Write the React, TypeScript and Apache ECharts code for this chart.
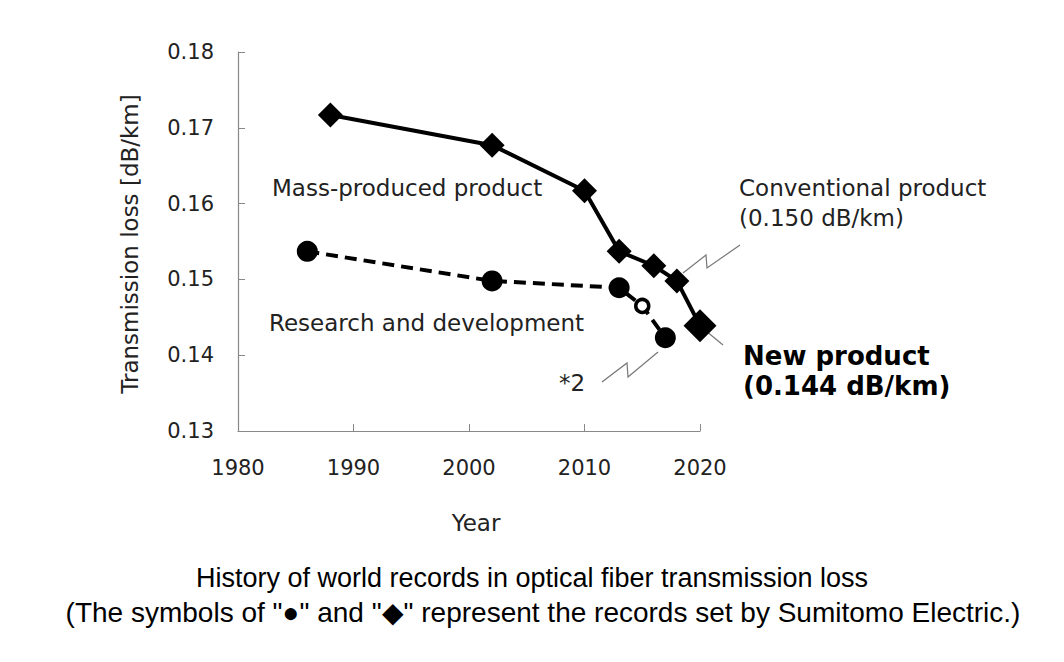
import React, { useEffect, useRef } from "react";
import * as echarts from "echarts";

const xTicks = [1980, 1990, 2000, 2010, 2020];
const massYears = [1988, 2002, 2010, 2013, 2016, 2018, 2020];
const massValues = [0.1717, 0.1677, 0.1617, 0.1537, 0.1518, 0.1498, 0.1439];
const rdYears = [1986, 2002, 2013, 2015, 2017];
const rdValues = [0.1537, 0.1498, 0.1489, 0.1465, 0.1423];
const rdOpen = [false, false, false, true, false];

const FONT = "DejaVu Sans";

export default function App() {
  const ref = useRef<HTMLDivElement>(null);
  useEffect(() => {
    document.body.style.margin = "0";
    const chart = echarts.init(ref.current!, null, { renderer: "svg" });
    const massData = massYears.map((y, i) => ({
      value: [y, massValues[i]],
      symbolSize: i === massYears.length - 1 ? 33 : 25,
    }));
    const rdData = rdYears.map((y, i) => ({
      value: [y, rdValues[i]],
      symbolSize: rdOpen[i] ? 13 : 21,
      itemStyle: rdOpen[i]
        ? { color: "#fff", borderColor: "#000", borderWidth: 3.5 }
        : { color: "#000" },
    }));
    const tb = { fontFamily: FONT, fontSize: 23, fill: "#222", verticalAlign: "middle" };
    const leader = { stroke: "#777", lineWidth: 1.2, fill: "none" };
    chart.setOption({
      animation: false,
      grid: { left: 238, top: 52, width: 462, height: 379 },
      xAxis: {
        type: "value",
        min: xTicks[0],
        max: xTicks[xTicks.length - 1],
        interval: 10,
        axisLine: { show: true, lineStyle: { color: "#888", width: 1.2 } },
        axisTick: { show: true, inside: true, length: 7, lineStyle: { color: "#888" } },
        splitLine: { show: false },
        axisLabel: { fontFamily: FONT, fontSize: 21, color: "#222", margin: 26, formatter: (v: number) => String(v) },
      },
      yAxis: {
        type: "value",
        min: 0.13,
        max: 0.18,
        interval: 0.01,
        axisLine: { show: true, lineStyle: { color: "#888", width: 1.2 } },
        axisTick: { show: true, inside: true, length: 7, lineStyle: { color: "#888" } },
        splitLine: { show: false },
        axisLabel: {
          fontFamily: FONT,
          fontSize: 21,
          color: "#222",
          margin: 24,
          formatter: (v: number) => v.toFixed(2),
        },
      },
      series: [
        {
          type: "line",
          data: massData,
          symbol: "diamond",
          lineStyle: { color: "#000", width: 4 },
          itemStyle: { color: "#000" },
          z: 3,
        },
        {
          type: "line",
          data: rdData,
          symbol: "circle",
          lineStyle: { color: "#000", width: 4, type: [12, 7] },
          itemStyle: { color: "#000" },
          z: 2,
        },
      ],
      graphic: [
        { type: "text", x: 272, y: 188, style: { ...tb, text: "Mass-produced product" } },
        { type: "text", x: 269, y: 323, style: { ...tb, text: "Research and development" } },
        { type: "text", x: 739, y: 203, style: { ...tb, text: "Conventional product\n(0.150 dB/km)", lineHeight: 30 } },
        {
          type: "text",
          x: 743,
          y: 371,
          style: { ...tb, fontSize: 26, fontWeight: "bold", fill: "#000", text: "New product\n(0.144 dB/km)", lineHeight: 30 },
        },
        { type: "text", x: 559, y: 383, style: { ...tb, text: "*2" } },
        { type: "text", x: 476, y: 523, style: { ...tb, text: "Year", align: "center" } },
        {
          type: "text",
          x: 130,
          y: 244,
          rotation: Math.PI / 2,
          style: { ...tb, text: "Transmission loss [dB/km]", align: "center" },
        },
        {
          type: "text",
          x: 532,
          y: 578,
          style: {
            fontFamily: "Liberation Sans",
            fontSize: 27,
            fill: "#000",
            text: "History of world records in optical fiber transmission loss",
            align: "center",
            verticalAlign: "middle",
          },
        },
        {
          type: "text",
          x: 543,
          y: 612,
          style: {
            fontFamily: "Liberation Sans",
            fontSize: 28,
            fill: "#000",
            text: "(The symbols of \"●\" and \"◆\" represent the records set by Sumitomo Electric.)",
            align: "center",
            verticalAlign: "middle",
          },
        },
        { type: "polyline", shape: { points: [[740, 245], [707, 268], [706, 255], [683, 273]] }, style: leader },
        { type: "polyline", shape: { points: [[700, 326], [723, 345]] }, style: leader, z: -1 },
        { type: "polyline", shape: { points: [[602, 382], [627, 363], [628, 377], [658, 352]] }, style: leader },
      ],
    });
    return () => chart.dispose();
  }, []);
  return <div ref={ref} style={{ position: "absolute", left: 0, top: 0, width: 1064, height: 662 }} />;
}
